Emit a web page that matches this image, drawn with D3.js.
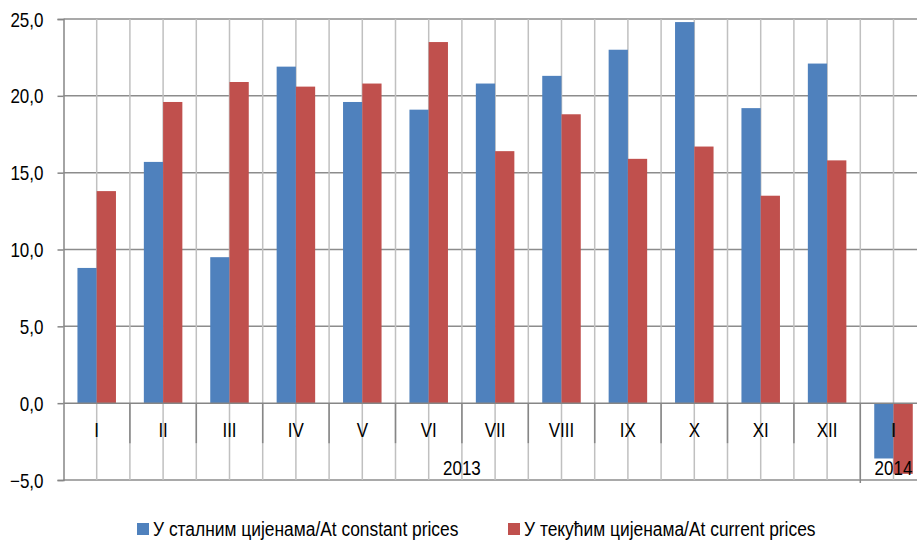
<!DOCTYPE html>
<html>
<head>
<meta charset="utf-8">
<script src="https://cdn.jsdelivr.net/npm/d3@7"></script>
<style>
  body { margin: 0; background: #fff; }
  svg text { font-family: "Liberation Sans Narrow", "Arial Narrow", "Liberation Sans", sans-serif; fill: #000; }
</style>
</head>
<body>
<div class="container"></div>
<script>
// month labels, two years
var months = ["I", "II", "III", "IV", "V", "VI", "VII", "VIII", "IX", "X", "XI", "XII", "I"];
var years = [
    { label: "2013", from: 0, to: 11 },
    { label: "2014", from: 12, to: 12 }
];
var constantPrices = [8.8, 15.7, 9.5, 21.9, 19.6, 19.1, 20.8, 21.3, 23.0, 24.8, 19.2, 22.1, -3.6];
var currentPrices = [13.8, 19.6, 20.9, 20.6, 20.8, 23.5, 16.4, 18.8, 15.9, 16.7, 13.5, 15.8, -4.6];
var seriesNames = ["У сталним цијенама/At constant prices", "У текућим цијенама/At current prices"];
var yTicks = [-5, 0, 5, 10, 15, 20, 25];

var width = 917, height = 542;
var colors = ["#4f81bd", "#c0504d"];

var plotLeft = 63.5, step = 66.4;
var plotTop = 19, plotBottom = 480;
var squeeze = 0.85; // fake a narrow font

var svg = d3.select('.container')
    .append('svg')
    .attr('width', width)
    .attr('height', height);

// move x/y into a transform so the glyphs can be squeezed horizontally
function narrow(sel, s) {
    sel.each(function () {
        var t = d3.select(this);
        var tx = +t.attr('x') || 0, ty = +t.attr('y') || 0;
        t.attr('x', 0).attr('y', 0)
            .attr('transform', 'translate(' + tx + ',' + ty + ') scale(' + s + ',1)');
    });
}

var idx = months.map(function (d, i) { return i; });

var x = d3.scaleBand()
    .domain(idx)
    .range([plotLeft, plotLeft + step * months.length])
    .paddingInner(0.42)
    .paddingOuter(0.21);

var xSub = d3.scaleBand()
    .domain([0, 1])
    .range([0, x.bandwidth()]);

var y = d3.scaleLinear()
    .domain([-5, 25])
    .range([plotBottom, plotTop]);

// horizontal gridlines
svg.append('g')
    .selectAll('line')
    .data(yTicks.filter(function (t) { return t != 0; }))
    .enter().append('line')
    .attr('x1', plotLeft).attr('x2', width)
    .attr('y1', function (d) { return y(d); })
    .attr('y2', function (d) { return y(d); })
    .attr('stroke', '#8c8c8c')
    .attr('stroke-width', 1.5);

// vertical gridlines, every half category
var halfSteps = d3.range(1, months.length * 2);
svg.append('g')
    .selectAll('line')
    .data(halfSteps)
    .enter().append('line')
    .attr('x1', function (d) { return plotLeft + d * step / 2; })
    .attr('x2', function (d) { return plotLeft + d * step / 2; })
    .attr('y1', plotTop).attr('y2', plotBottom)
    .attr('stroke', '#c0c0c0')
    .attr('stroke-width', 1.5);

// bars
var series = [constantPrices, currentPrices];
series.forEach(function (values, s) {
    svg.append('g')
        .selectAll('rect')
        .data(values)
        .enter().append('rect')
        .attr('x', function (d, i) { return x(i) + xSub(s); })
        .attr('width', xSub.bandwidth())
        .attr('y', function (d) { return y(Math.max(0, d)); })
        .attr('height', function (d) { return Math.abs(y(d) - y(0)); })
        .attr('fill', colors[s]);
});

// zero axis line
svg.append('line')
    .attr('x1', plotLeft).attr('x2', width)
    .attr('y1', y(0)).attr('y2', y(0))
    .attr('stroke', '#868686')
    .attr('stroke-width', 1.5);

// category tick marks in label area
svg.append('g')
    .selectAll('line')
    .data(d3.range(1, months.length))
    .enter().append('line')
    .attr('x1', function (d) { return plotLeft + d * step; })
    .attr('x2', function (d) { return plotLeft + d * step; })
    .attr('y1', y(0))
    .attr('y2', function (d) { return d == 12 ? plotBottom + 3 : y(0) + 40; })
    .attr('stroke', '#868686')
    .attr('stroke-width', 1.5);

// month labels
svg.append('g')
    .selectAll('text')
    .data(months)
    .enter().append('text')
    .attr('x', function (d, i) { return x(i) + x.bandwidth() / 2; })
    .attr('y', y(0) + 34)
    .attr('text-anchor', 'middle')
    .attr('font-size', '20px')
    .text(function (d) { return d; })
    .call(narrow, squeeze);

// year labels
svg.append('g')
    .selectAll('text')
    .data(years)
    .enter().append('text')
    .attr('x', function (d) { return (x(d.from) + x(d.to) + x.bandwidth()) / 2; })
    .attr('y', plotBottom - 5)
    .attr('text-anchor', 'middle')
    .attr('font-size', '20px')
    .text(function (d) { return d.label; })
    .call(narrow, squeeze);

// y axis
var yAxis = svg.append('g')
    .attr('transform', 'translate(' + plotLeft + ',0)')
    .call(d3.axisLeft(y)
        .tickValues(yTicks)
        .tickSize(6)
        .tickFormat(function (d) { return d3.format('.1f')(d).replace('.', ','); }));
yAxis.select('.domain').attr('stroke', '#868686').attr('stroke-width', 1.5);
yAxis.selectAll('.tick line').attr('stroke', '#868686').attr('stroke-width', 1.5);
yAxis.selectAll('.tick text')
    .attr('font-size', '20px')
    .attr('dy', null)
    .attr('x', -20)
    .attr('y', 7)
    .call(narrow, squeeze);

// legend
var legendX = [137, 508];
var legend = svg.append('g')
    .selectAll('g')
    .data(seriesNames)
    .enter().append('g')
    .attr('transform', function (d, i) { return 'translate(' + legendX[i] + ',523)'; });
legend.append('rect')
    .attr('width', 12).attr('height', 12)
    .attr('fill', function (d, i) { return colors[i]; });
legend.append('text')
    .attr('x', 16)
    .attr('y', 13)
    .attr('font-size', '20px')
    .text(function (d) { return d; })
    .call(narrow, 0.87);
</script>
</body>
</html>
